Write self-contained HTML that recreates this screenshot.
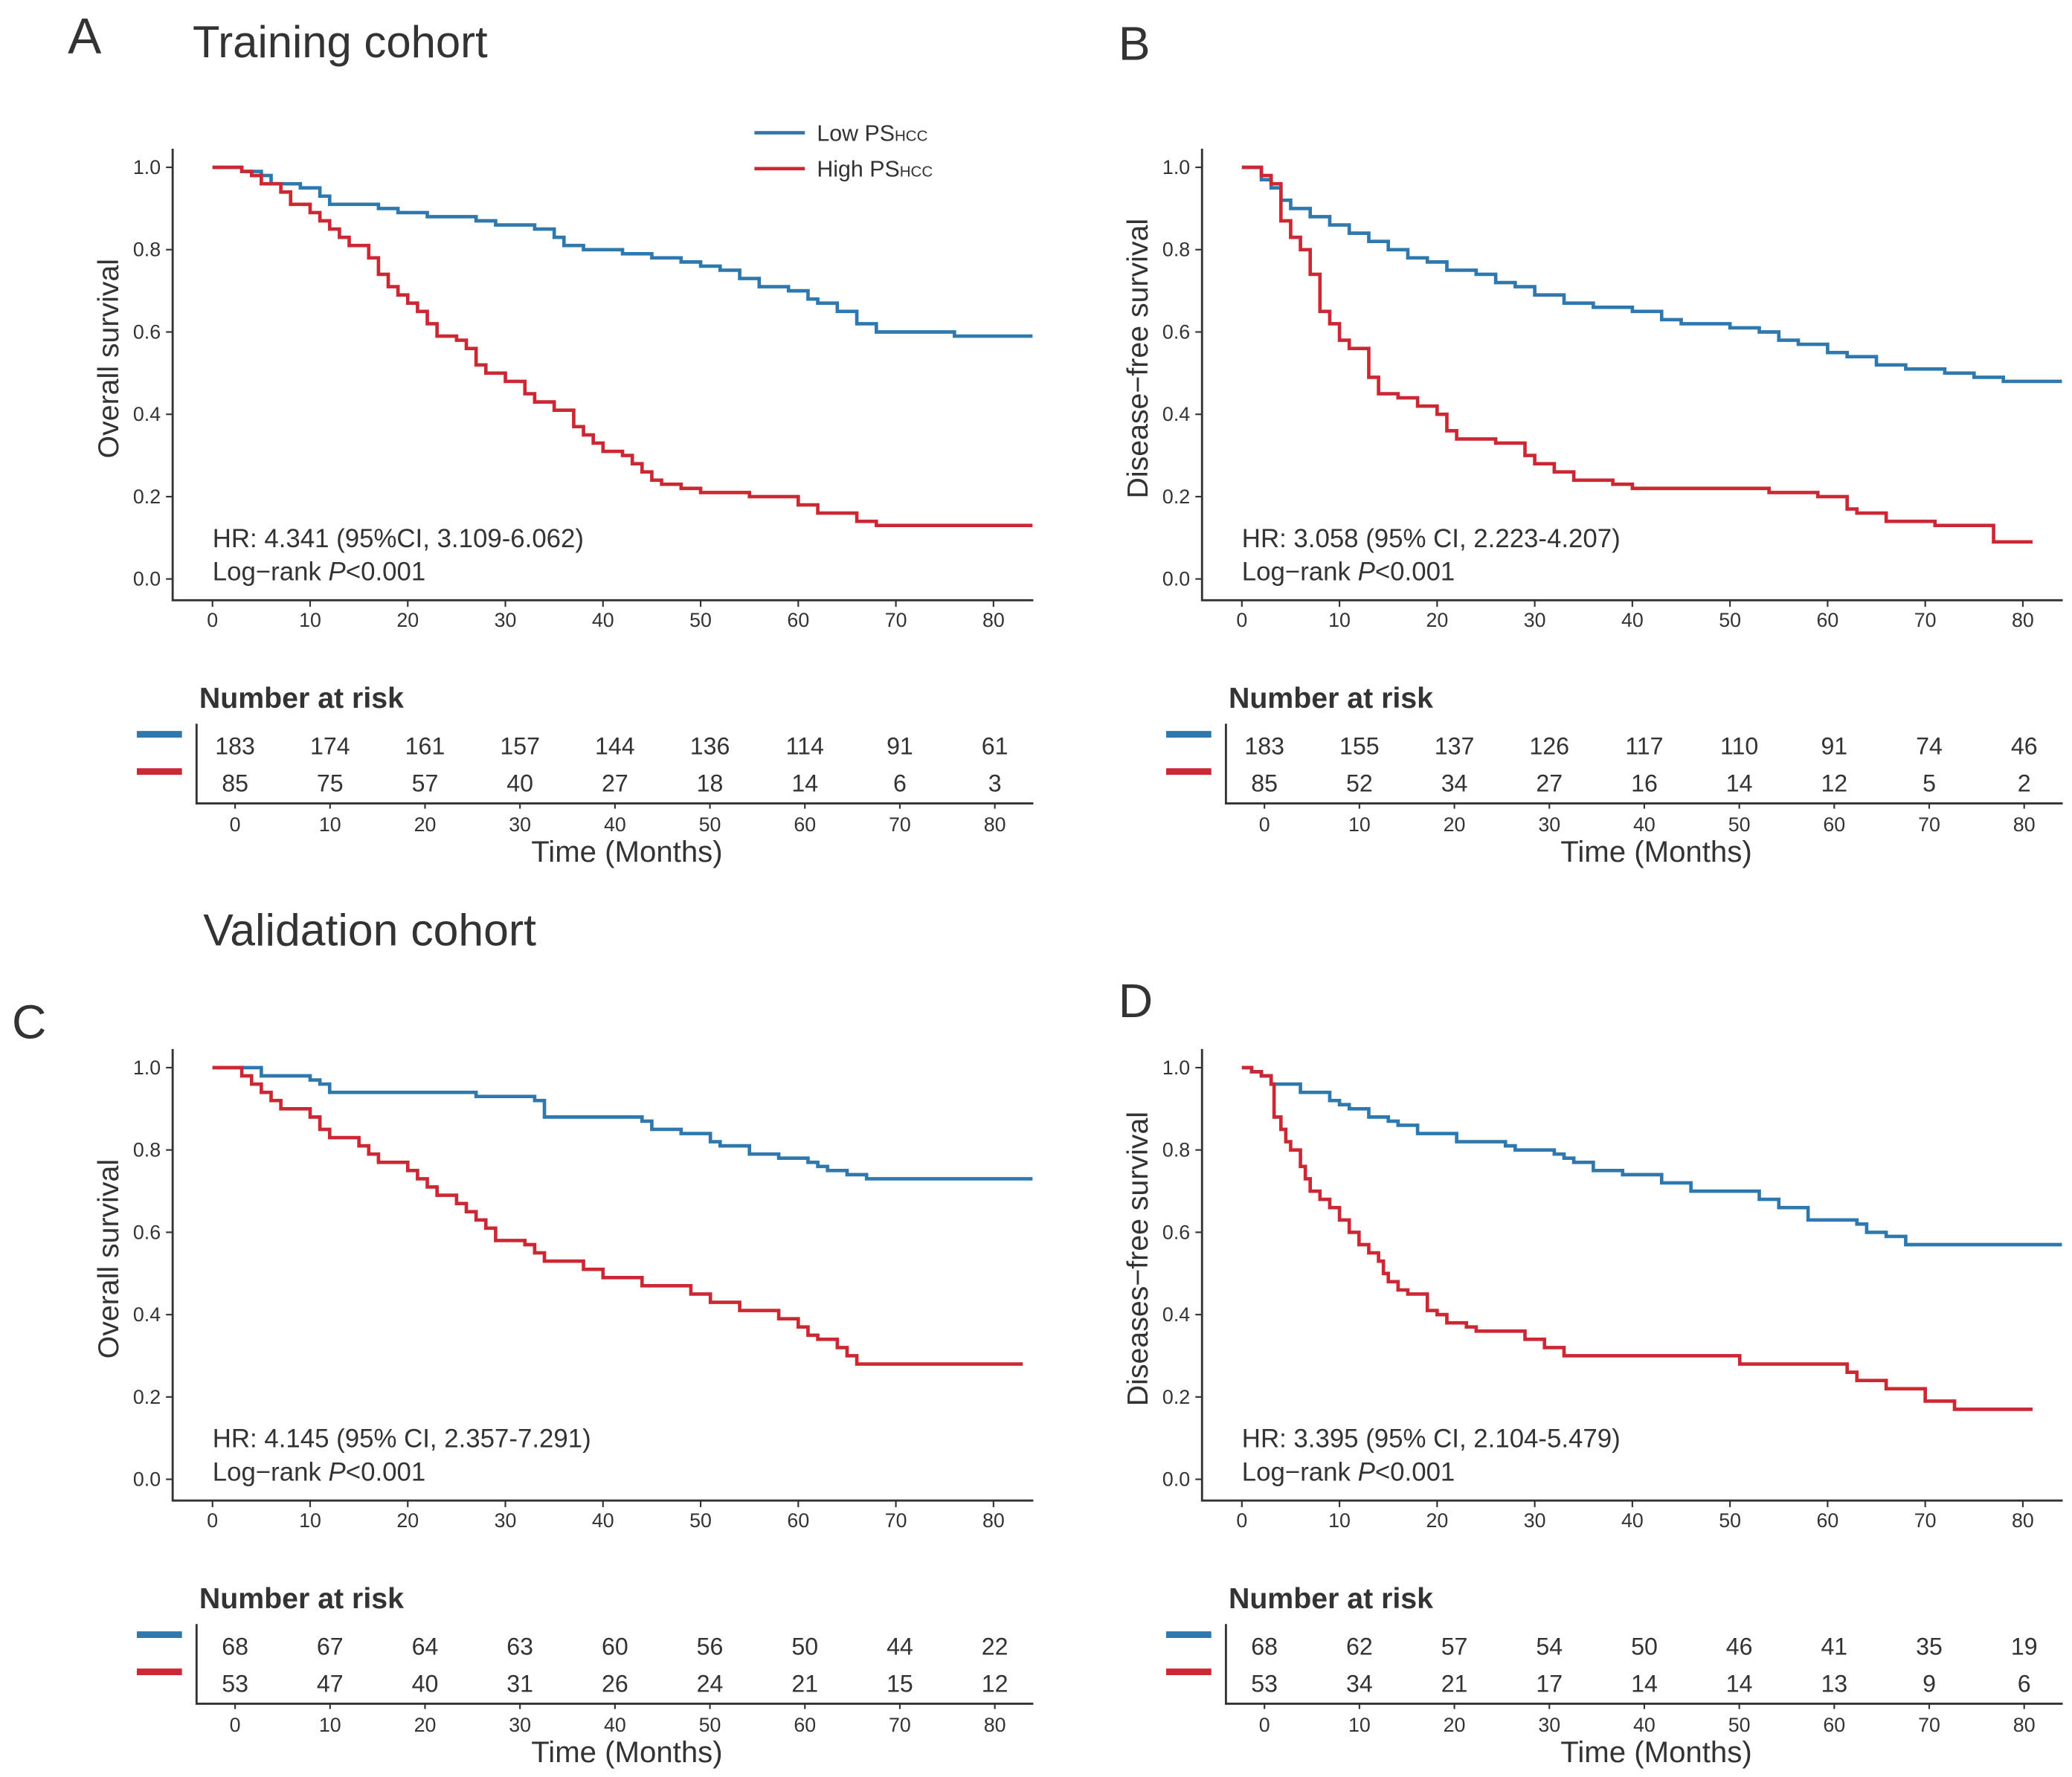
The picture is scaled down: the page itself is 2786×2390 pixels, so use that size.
<!DOCTYPE html>
<html><head><meta charset="utf-8"><style>
html,body{margin:0;padding:0;background:#fff}
svg{display:block}
text{font-family:"Liberation Sans",sans-serif;fill:#333}
</style></head><body>
<svg id="fig" width="2786" height="2390" viewBox="0 0 1560 1338.2" preserveAspectRatio="none" xmlns="http://www.w3.org/2000/svg"></svg>
<script>
// ---- data ----
const tickMonths = [0,10,20,30,40,50,60,70,80];
const yTicks = [0.0,0.2,0.4,0.6,0.8,1.0];

const aLowT = [0,3,5,6,9,11,12,17,19,22,27,29,33,35,36,38,42,45,48,50,52,54,56,59,61,62,64,66,68,76];
const aLowS = [1,0.99,0.98,0.96,0.95,0.93,0.91,0.90,0.89,0.88,0.87,0.86,0.85,0.83,0.81,0.80,0.79,0.78,0.77,0.76,0.75,0.73,0.71,0.70,0.68,0.67,0.65,0.62,0.60,0.59];
const aHighT = [0,3,4,5,7,8,10,11,12,13,14,16,17,18,19,20,21,22,23,25,26,27,28,30,32,33,35,37,38,39,40,42,43,44,45,46,48,50,55,60,62,66,68];
const aHighS = [1,0.99,0.98,0.96,0.94,0.91,0.89,0.87,0.85,0.83,0.81,0.78,0.74,0.71,0.69,0.67,0.65,0.62,0.59,0.58,0.56,0.52,0.50,0.48,0.45,0.43,0.41,0.37,0.35,0.33,0.31,0.30,0.28,0.26,0.24,0.23,0.22,0.21,0.20,0.18,0.16,0.14,0.13];

const bLowT = [0,2,3,4,5,7,9,11,13,15,17,19,21,24,26,28,30,33,36,40,43,45,50,53,55,57,60,62,65,68,72,75,78];
const bLowS = [1,0.97,0.95,0.92,0.90,0.88,0.86,0.84,0.82,0.80,0.78,0.77,0.75,0.74,0.72,0.71,0.69,0.67,0.66,0.65,0.63,0.62,0.61,0.60,0.58,0.57,0.55,0.54,0.52,0.51,0.50,0.49,0.48];
const bHighT = [0,2,3,4,5,6,7,8,9,10,11,13,14,16,18,20,21,22,26,29,30,32,34,38,40,54,59,62,63,66,71,77];
const bHighS = [1,0.98,0.96,0.87,0.83,0.80,0.74,0.65,0.62,0.58,0.56,0.49,0.45,0.44,0.42,0.40,0.36,0.34,0.33,0.30,0.28,0.26,0.24,0.23,0.22,0.21,0.20,0.17,0.16,0.14,0.13,0.09];

const cLowT = [0,5,10,11,12,27,33,34,44,45,48,51,52,55,58,61,62,63,65,67];
const cLowS = [1,0.98,0.97,0.96,0.94,0.93,0.92,0.88,0.87,0.85,0.84,0.82,0.81,0.79,0.78,0.77,0.76,0.75,0.74,0.73];
const cHighT = [0,3,4,5,6,7,10,11,12,15,16,17,20,21,22,23,25,26,27,28,29,32,33,34,38,40,44,49,51,54,58,60,61,62,64,65,66];
const cHighS = [1,0.98,0.96,0.94,0.92,0.90,0.88,0.85,0.83,0.81,0.79,0.77,0.75,0.73,0.71,0.69,0.67,0.65,0.63,0.61,0.58,0.57,0.55,0.53,0.51,0.49,0.47,0.45,0.43,0.41,0.39,0.37,0.35,0.34,0.32,0.30,0.28];

const dLowT = [0,1,2,3,6,9,10,11,13,15,16,18,22,27,28,32,33,34,36,39,43,46,53,55,58,63,64,66,68];
const dLowS = [1,0.99,0.98,0.96,0.94,0.92,0.91,0.90,0.88,0.87,0.86,0.84,0.82,0.81,0.80,0.79,0.78,0.77,0.75,0.74,0.72,0.70,0.68,0.66,0.63,0.62,0.60,0.59,0.57];
const dHighT = [0,1,2,3,3.3,4,4.5,5,6,6.5,7,8,9,10,11,12,13,14,14.5,15,16,17,19,20,21,23,24,29,31,33,51,62,63,66,70,73];
const dHighS = [1,0.99,0.98,0.96,0.88,0.85,0.82,0.80,0.76,0.73,0.70,0.68,0.66,0.63,0.60,0.57,0.55,0.53,0.50,0.48,0.46,0.45,0.41,0.40,0.38,0.37,0.36,0.34,0.32,0.30,0.28,0.26,0.24,0.22,0.19,0.17];

const aRiskLow = [183,174,161,157,144,136,114,91,61];
const aRiskHigh = [85,75,57,40,27,18,14,6,3];
const bRiskLow = [183,155,137,126,117,110,91,74,46];
const bRiskHigh = [85,52,34,27,16,14,12,5,2];
const cRiskLow = [68,67,64,63,60,56,50,44,22];
const cRiskHigh = [53,47,40,31,26,24,21,15,12];
const dRiskLow = [68,62,57,54,50,46,41,35,19];
const dRiskHigh = [53,34,21,17,14,14,13,9,6];

const BLUE = "#2f78ad", RED = "#cc2833";
const NS = "http://www.w3.org/2000/svg";
const svg = document.getElementById('fig');

function mk(tag, attrs, parent, txt){
  const e = document.createElementNS(NS, tag);
  for (const k in attrs) e.setAttribute(k, attrs[k]);
  if (txt !== undefined) e.textContent = txt;
  (parent||svg).appendChild(e);
  return e;
}

function panel(key, dx, dy, ytitle, lowT, lowS, highT, highS, lowEnd, highEnd, riskLow, riskHigh, hr){
  const g = mk('g', {});
  
  
  const xS = t => dx + 160 + t * 7.35;
  const yS = s => dy + 436 - s * 310;
  const ax = mk('path', {d:`M${dx+130},${dy+112} V${dy+452} H${dx+778}`, stroke:'#333', 'stroke-width':1.6, fill:'none'}, g);
  
  
  yTicks.forEach(v => {
    mk('line', {x1:dx+125, x2:dx+130, y1:yS(v), y2:yS(v), stroke:'#333', 'stroke-width':1.2}, g);
    const t = mk('text', {x:dx+121, y:yS(v)+5, 'text-anchor':'end', 'font-size':15}, g, v.toFixed(1));
    
    
  });
  tickMonths.forEach(m => {
    mk('line', {x1:xS(m), x2:xS(m), y1:dy+452, y2:dy+457, stroke:'#333', 'stroke-width':1.2}, g);
    const t = mk('text', {x:xS(m), y:dy+472, 'text-anchor':'middle', 'font-size':15}, g, String(m));
    
    
  });
  const yt = mk('text', {x:0, y:0, transform:`translate(${dx+89},${dy+270}) rotate(-90)`, 'text-anchor':'middle', 'font-size':22}, g, ytitle);
  
  
  function curve(T, S, end, col, name){
    let d = `M${xS(T[0])},${yS(S[0])}`;
    for (let i = 1; i < T.length; i++) d += ` H${xS(T[i])} V${yS(S[i])}`;
    d += ` H${xS(end)}`;
    const p = mk('path', {d, stroke:col, 'stroke-width':2.6, fill:'none'}, g);
    
    
  }
  curve(lowT, lowS, lowEnd, BLUE, 'low-ps-curve');
  curve(highT, highS, highEnd, RED, 'high-ps-curve');
  const h1 = mk('text', {x:dx+160, y:dy+412, 'font-size':19.5}, g, hr);
  
  
  const h2 = mk('text', {x:dx+160, y:dy+437, 'font-size':19.5}, g);
  
  
  mk('tspan', {}, h2, 'Log\u2212rank ');
  mk('tspan', {'font-style':'italic'}, h2, 'P');
  mk('tspan', {}, h2, '<0.001');
  const nr = mk('text', {x:dx+150, y:dy+533, 'font-size':22, 'font-weight':'bold', fill:'#111'}, g, 'Number at risk');
  
  
  mk('path', {d:`M${dx+148},${dy+545} V${dy+605} H${dx+778}`, stroke:'#333', 'stroke-width':1.6, fill:'none'}, g);
  const lb = mk('line', {x1:dx+103, x2:dx+137, y1:dy+553, y2:dy+553, stroke:BLUE, 'stroke-width':5}, g);
  
  
  const lr = mk('line', {x1:dx+103, x2:dx+137, y1:dy+581, y2:dy+581, stroke:RED, 'stroke-width':5}, g);
  
  
  const rx = m => dx + 177 + m * 7.15;
  tickMonths.forEach((m, i) => {
    const a = mk('text', {x:rx(m), y:dy+568, 'text-anchor':'middle', 'font-size':18}, g, String(riskLow[i]));
    
    
    const b = mk('text', {x:rx(m), y:dy+596, 'text-anchor':'middle', 'font-size':18}, g, String(riskHigh[i]));
    
    
    mk('line', {x1:rx(m), x2:rx(m), y1:dy+605, y2:dy+609, stroke:'#333', 'stroke-width':1.2}, g);
    const c = mk('text', {x:rx(m), y:dy+626, 'text-anchor':'middle', 'font-size':15}, g, String(m));
    
    
  });
  const xt = mk('text', {x:dx+472, y:dy+649, 'text-anchor':'middle', 'font-size':22.5}, g, 'Time (Months)');
  
  
}

panel('a', 0, 0, 'Overall survival', aLowT, aLowS, aHighT, aHighS, 84, 84, aRiskLow, aRiskHigh, 'HR: 4.341 (95%CI, 3.109-6.062)');
panel('b', 775, 0, 'Disease\u2212free survival', bLowT, bLowS, bHighT, bHighS, 84, 81, bRiskLow, bRiskHigh, 'HR: 3.058 (95% CI, 2.223-4.207)');
panel('c', 0, 678, 'Overall survival', cLowT, cLowS, cHighT, cHighS, 84, 83, cRiskLow, cRiskHigh, 'HR: 4.145 (95% CI, 2.357-7.291)');
panel('d', 775, 678, 'Diseases\u2212free survival', dLowT, dLowS, dHighT, dHighS, 84, 81, dRiskLow, dRiskHigh, 'HR: 3.395 (95% CI, 2.104-5.479)');

function label(txt, x, y, size, name){
  const t = mk('text', {x, y, 'font-size':size, fill:'#111'}, svg, txt);
  
  
}
label('A', 51, 40, 38, 'panel-letter-a');
label('B', 842, 45, 36, 'panel-letter-b');
label('C', 9, 782, 36, 'panel-letter-c');
label('D', 842, 766, 36, 'panel-letter-d');
label('Training cohort', 145, 43, 33.5, 'training-cohort-title');
label('Validation cohort', 153, 712, 34, 'validation-cohort-title');

const lg = mk('g', {});


const l1 = mk('line', {x1:568, x2:606, y1:100, y2:100, stroke:BLUE, 'stroke-width':2.6}, lg);


const l2 = mk('line', {x1:568, x2:606, y1:127, y2:127, stroke:RED, 'stroke-width':2.6}, lg);


const t1 = mk('text', {x:615, y:106, 'font-size':17}, lg);
mk('tspan', {}, t1, 'Low PS');
mk('tspan', {'font-size':11.5}, t1, 'HCC');


const t2 = mk('text', {x:615, y:133, 'font-size':17}, lg);
mk('tspan', {}, t2, 'High PS');
mk('tspan', {'font-size':11.5}, t2, 'HCC');


</script>
</body></html>
